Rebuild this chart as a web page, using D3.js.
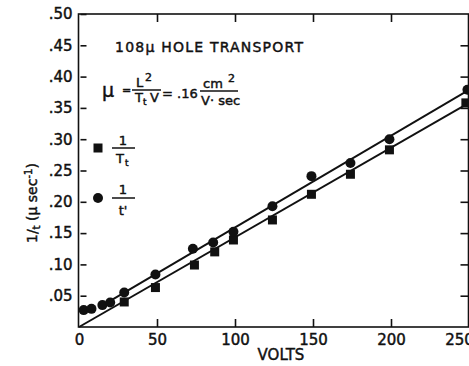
<!DOCTYPE html>
<html>
<head>
<meta charset="utf-8">
<script src="https://cdn.jsdelivr.net/npm/d3@7"></script>
<style>
  body { margin: 0; background: #fff; }
  text { font-family: "DejaVu Sans", sans-serif; fill: #111; stroke: #111; stroke-width: 0.45px; }
</style>
</head>
<body>
<div id="chart"></div>
<script>
// 1/t' points (circles)
var circleVolts = [3, 8, 15, 20, 29, 49, 73, 86, 99, 124, 149, 174, 199, 249];
var circleRates = [.027, .029, .035, .039, .055, .084, .125, .135, .152, .193, .241, .262, .300, .379];
// 1/Tt points (squares)
var squareVolts = [29, 49, 74, 87, 99, 124, 149, 174, 199, 248];
var squareRates = [.040, .063, .099, .120, .139, .171, .212, .244, .283, .358];
// fitted lines
var squareFitVolts = [0, 250];
var squareFitRates = [0, .358];
var circleFitVolts = [14, 250];
var circleFitRates = [.033, .379];

var xTicks = [0, 50, 100, 150, 200, 250];
var yTicks = [.05, .10, .15, .20, .25, .30, .35, .40, .45, .50];
var yTickLabels = [".05", ".10", ".15", ".20", ".25", ".30", ".35", ".40", ".45", ".50"];

var w = 469, h = 366;
var pLeft = 78.5, pRight = 468.5, pTop = 14, pBottom = 327;

var svg = d3.select("body div#chart").append("svg")
    .attr("width", w)
    .attr("height", h);

var x = d3.scaleLinear().domain([0, 250]).range([79, 469]);
var y = d3.scaleLinear().domain([0, .5]).range([pBottom, pTop]);

var ink = "#111";

// frame
svg.append("rect")
  .attr("x", pLeft).attr("y", pTop)
  .attr("width", pRight - pLeft).attr("height", pBottom - pTop)
  .attr("fill", "none").attr("stroke", ink).attr("stroke-width", 1.6);

// left axis: labels + inward ticks
var yAxisL = d3.axisLeft(y).tickValues(yTicks)
  .tickFormat(function(d, i) { return yTickLabels[i]; })
  .tickSize(-8).tickPadding(6);
var gl = svg.append("g").attr("transform", "translate(" + pLeft + ",0)").call(yAxisL);
gl.select(".domain").remove();
gl.selectAll("line").attr("stroke", ink).attr("stroke-width", 1.6).attr("x1", 2);
gl.selectAll("text").attr("font-size", 15).attr("font-family", null).attr("fill", ink);

// right axis ticks
var yAxisR = d3.axisRight(y).tickValues(yTicks.slice(0, 9)).tickSize(-8).tickFormat("");
var gr = svg.append("g").attr("transform", "translate(" + pRight + ",0)").call(yAxisR);
gr.select(".domain").remove();
gr.selectAll("line").attr("stroke", ink).attr("stroke-width", 1.6);

// bottom axis
var xAxisB = d3.axisBottom(x).tickValues(xTicks).tickSize(-8).tickPadding(7)
  .tickFormat(function(d) { return d; });
var gb = svg.append("g").attr("transform", "translate(0," + pBottom + ")").call(xAxisB);
gb.select(".domain").remove();
gb.selectAll("line").attr("stroke", ink).attr("stroke-width", 1.6);
gb.selectAll(".tick").filter(function(d) { return d == 0 || d == 250; }).select("line").remove();
gb.selectAll("text").attr("font-size", 15).attr("font-family", null).attr("fill", ink);
gb.selectAll(".tick").filter(function(d) { return d == 250; }).select("text").attr("x", -10);

// top axis ticks
var xAxisT = d3.axisTop(x).tickValues([50, 100, 150, 200]).tickSize(-8).tickFormat("");
var gt = svg.append("g").attr("transform", "translate(0," + pTop + ")").call(xAxisT);
gt.select(".domain").remove();
gt.selectAll("line").attr("stroke", ink).attr("stroke-width", 1.6);

// fit lines
var line = d3.line()
  .x(function(d) { return x(d[0]); })
  .y(function(d) { return y(d[1]); });

svg.append("path")
  .attr("d", line(d3.zip(squareFitVolts, squareFitRates)))
  .attr("fill", "none").attr("stroke", ink).attr("stroke-width", 2);
svg.append("path")
  .attr("d", line(d3.zip(circleFitVolts, circleFitRates)))
  .attr("fill", "none").attr("stroke", ink).attr("stroke-width", 2);

// markers
svg.selectAll("rect.sq").data(d3.zip(squareVolts, squareRates)).enter().append("rect")
  .attr("class", "sq")
  .attr("x", function(d) { return x(d[0]) - 4.5; })
  .attr("y", function(d) { return y(d[1]) - 4.5; })
  .attr("width", 9).attr("height", 9)
  .attr("fill", ink);

svg.selectAll("circle.pt").data(d3.zip(circleVolts, circleRates)).enter().append("circle")
  .attr("class", "pt")
  .attr("cx", function(d) { return x(d[0]); })
  .attr("cy", function(d) { return y(d[1]); })
  .attr("r", 5)
  .attr("fill", ink);

// title
svg.append("text").attr("x", 115).attr("y", 52)
  .attr("font-size", 14).attr("textLength", 188).attr("lengthAdjust", "spacing")
  .text("108μ HOLE TRANSPORT");

// formula
svg.append("text").attr("x", 102).attr("y", 97).attr("font-size", 19).text("μ");
svg.append("text").attr("x", 122).attr("y", 94).attr("font-size", 11).text("=");
svg.append("text").attr("x", 136).attr("y", 87).attr("font-size", 13).text("L");
svg.append("text").attr("x", 145).attr("y", 81).attr("font-size", 11).text("2");
svg.append("line").attr("x1", 132).attr("x2", 161).attr("y1", 90).attr("y2", 90)
  .attr("stroke", ink).attr("stroke-width", 1.5);
svg.append("text").attr("x", 135).attr("y", 102).attr("font-size", 13).text("T");
svg.append("text").attr("x", 143).attr("y", 105).attr("font-size", 9).text("t");
svg.append("text").attr("x", 150).attr("y", 102).attr("font-size", 13).text("V");
svg.append("text").attr("x", 162).attr("y", 98).attr("font-size", 13).text("= .16");
svg.append("text").attr("x", 203).attr("y", 88).attr("font-size", 13).text("cm");
svg.append("text").attr("x", 228).attr("y", 82).attr("font-size", 11).text("2");
svg.append("line").attr("x1", 200).attr("x2", 238).attr("y1", 91).attr("y2", 91)
  .attr("stroke", ink).attr("stroke-width", 1.5);
svg.append("text").attr("x", 201).attr("y", 105).attr("font-size", 13).text("V· sec");

// legend
svg.append("rect").attr("x", 93.5).attr("y", 143.5).attr("width", 9).attr("height", 9).attr("fill", ink);
svg.append("text").attr("x", 123).attr("y", 145).attr("font-size", 13).attr("text-anchor", "middle").text("1");
svg.append("line").attr("x1", 112).attr("x2", 135).attr("y1", 148).attr("y2", 148)
  .attr("stroke", ink).attr("stroke-width", 1.5);
svg.append("text").attr("x", 116).attr("y", 163).attr("font-size", 13).text("T");
svg.append("text").attr("x", 125).attr("y", 166).attr("font-size", 9).text("t");

svg.append("circle").attr("cx", 98).attr("cy", 198).attr("r", 5).attr("fill", ink);
svg.append("text").attr("x", 123).attr("y", 194).attr("font-size", 13).attr("text-anchor", "middle").text("1");
svg.append("line").attr("x1", 112).attr("x2", 135).attr("y1", 198).attr("y2", 198)
  .attr("stroke", ink).attr("stroke-width", 1.5);
svg.append("text").attr("x", 123).attr("y", 215).attr("font-size", 13).attr("text-anchor", "middle").text("t'");

// axis titles
svg.append("text").attr("x", 281).attr("y", 360).attr("font-size", 15)
  .attr("text-anchor", "middle").text("VOLTS");

var yl = svg.append("text").attr("transform", "translate(37,243) rotate(-90)")
  .attr("font-size", 14);
yl.append("tspan").text("1/");
yl.append("tspan").attr("font-size", 10).attr("dy", 3).text("t");
yl.append("tspan").attr("dy", -3).text(" (μ sec");
yl.append("tspan").attr("font-size", 10).attr("dy", -5).text("-1");
yl.append("tspan").attr("dy", 5).text(")");
</script>
</body>
</html>
